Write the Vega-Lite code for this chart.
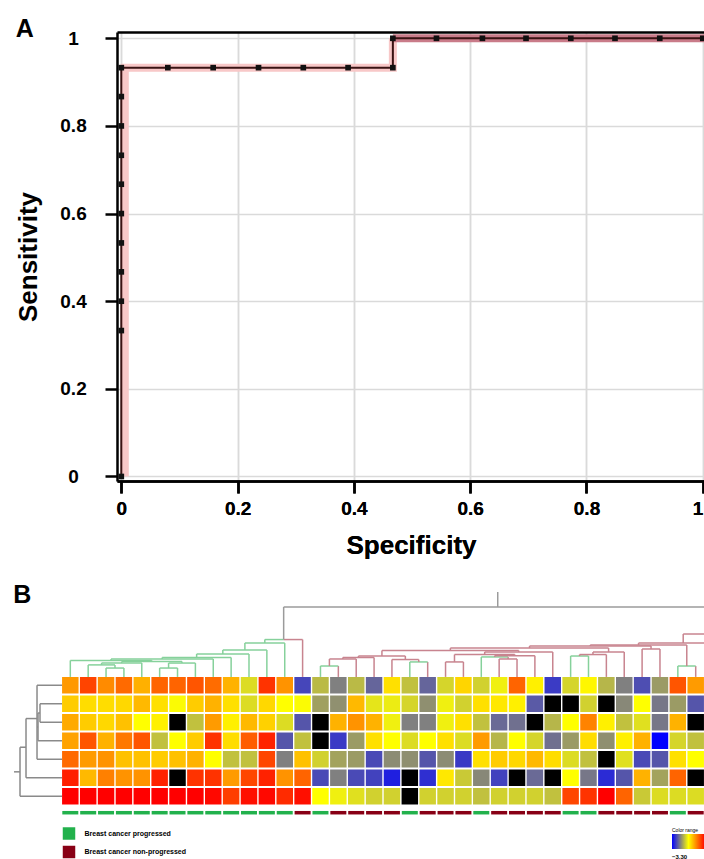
{
  "$schema": "https://vega.github.io/schema/vega-lite/v6.json",
  "background": "white",
  "padding": {"left": 13, "top": 17, "right": 0, "bottom": 0},
  "autosize": {"type": "pad"},
  "columns": 1,
  "spacing": 25,
  "resolve": {"scale": {"color": "independent", "fill": "independent", "stroke": "independent"}, "legend": {"color": "independent", "fill": "independent"}},
  "config": {"view": {"stroke": null}, "font": "Liberation Sans"},
  "datasets": {
    "roc": [
      {"sp": 0, "se": 0, "o": 0}, {"sp": 0, "se": 0.333, "o": 1}, {"sp": 0, "se": 0.4, "o": 2}, {"sp": 0, "se": 0.467, "o": 3},
      {"sp": 0, "se": 0.533, "o": 4}, {"sp": 0, "se": 0.6, "o": 5}, {"sp": 0, "se": 0.667, "o": 6}, {"sp": 0, "se": 0.733, "o": 7},
      {"sp": 0, "se": 0.8, "o": 8}, {"sp": 0, "se": 0.867, "o": 9}, {"sp": 0, "se": 0.933, "o": 10}, {"sp": 0.08, "se": 0.933, "o": 11},
      {"sp": 0.158, "se": 0.933, "o": 12}, {"sp": 0.236, "se": 0.933, "o": 13}, {"sp": 0.313, "se": 0.933, "o": 14}, {"sp": 0.39, "se": 0.933, "o": 15},
      {"sp": 0.467, "se": 0.933, "o": 16}, {"sp": 0.467, "se": 1, "o": 17}, {"sp": 0.542, "se": 1, "o": 18}, {"sp": 0.621, "se": 1, "o": 19},
      {"sp": 0.696, "se": 1, "o": 20}, {"sp": 0.773, "se": 1, "o": 21}, {"sp": 0.849, "se": 1, "o": 22}, {"sp": 0.926, "se": 1, "o": 23},
      {"sp": 1, "se": 1, "o": 24}
    ],
    "band": [
      {"sp": 0.006, "se": 0, "o": 0, "b": "a"}, {"sp": 0.006, "se": 0.933, "o": 1, "b": "a"}, {"sp": 0.467, "se": 0.933, "o": 2, "b": "a"}, {"sp": 0.467, "se": 1, "o": 3, "b": "a"},
      {"sp": 0.467, "se": 1, "o": 4, "b": "b"}, {"sp": 1.0038, "se": 1, "o": 5, "b": "b"}
    ],
    "dend": [
      {"x":3,"x2":3,"y":0.55,"y2":0.07,"g":"g"},{"x":4,"x2":4,"y":0.55,"y2":0.07,"g":"g"},{"x":3,"x2":4,"y":0.07,"y2":0.07,"g":"g"},
      {"x":2,"x2":2,"y":0.55,"y2":-0.1,"g":"g"},{"x":3.5,"x2":3.5,"y":0.07,"y2":-0.1,"g":"g"},{"x":2,"x2":3.5,"y":-0.1,"y2":-0.1,"g":"g"},
      {"x":2.75,"x2":2.75,"y":-0.1,"y2":-0.2,"g":"g"},{"x":5,"x2":5,"y":0.55,"y2":-0.2,"g":"g"},{"x":2.75,"x2":5,"y":-0.2,"y2":-0.2,"g":"g"},
      {"x":6,"x2":6,"y":0.55,"y2":0.07,"g":"g"},{"x":7,"x2":7,"y":0.55,"y2":0.07,"g":"g"},{"x":6,"x2":7,"y":0.07,"y2":0.07,"g":"g"},
      {"x":6.5,"x2":6.5,"y":0.07,"y2":-0.2,"g":"g"},{"x":8,"x2":8,"y":0.55,"y2":-0.2,"g":"g"},{"x":6.5,"x2":8,"y":-0.2,"y2":-0.2,"g":"g"},
      {"x":3.875,"x2":3.875,"y":-0.2,"y2":-0.28,"g":"g"},{"x":7.25,"x2":7.25,"y":-0.2,"y2":-0.28,"g":"g"},{"x":3.875,"x2":7.25,"y":-0.28,"y2":-0.28,"g":"g"},
      {"x":1,"x2":1,"y":0.55,"y2":-0.34,"g":"g"},{"x":5.5625,"x2":5.5625,"y":-0.28,"y2":-0.34,"g":"g"},{"x":1,"x2":5.5625,"y":-0.34,"y2":-0.34,"g":"g"},
      {"x":3.28,"x2":3.28,"y":-0.34,"y2":-0.42,"g":"g"},{"x":9,"x2":9,"y":0.55,"y2":-0.42,"g":"g"},{"x":3.28,"x2":9,"y":-0.42,"y2":-0.42,"g":"g"},
      {"x":6.14,"x2":6.14,"y":-0.42,"y2":-0.5,"g":"g"},{"x":10,"x2":10,"y":0.55,"y2":-0.5,"g":"g"},{"x":6.14,"x2":10,"y":-0.5,"y2":-0.5,"g":"g"},
      {"x":8.07,"x2":8.07,"y":-0.5,"y2":-0.69,"g":"g"},{"x":11,"x2":11,"y":0.55,"y2":-0.69,"g":"g"},{"x":8.07,"x2":11,"y":-0.69,"y2":-0.69,"g":"g"},
      {"x":9.535,"x2":9.535,"y":-0.69,"y2":-0.91,"g":"g"},{"x":12,"x2":12,"y":0.55,"y2":-0.91,"g":"g"},{"x":9.535,"x2":12,"y":-0.91,"y2":-0.91,"g":"g"},
      {"x":10.77,"x2":10.77,"y":-0.91,"y2":-1.28,"g":"g"},{"x":13,"x2":13,"y":0.55,"y2":-1.28,"g":"g"},{"x":10.77,"x2":13,"y":-1.28,"y2":-1.28,"g":"g"},
      {"x":11.885,"x2":11.885,"y":-1.28,"y2":-1.47,"g":"g"},{"x":14,"x2":14,"y":0.55,"y2":-1.47,"g":"r"},{"x":11.885,"x2":12.94,"y":-1.47,"y2":-1.47,"g":"g"},{"x":12.94,"x2":14,"y":-1.47,"y2":-1.47,"g":"r"},
      {"x":12.94,"x2":12.94,"y":-1.47,"y2":-3.23,"g":"k"},{"x":12.94,"x2":36.52,"y":-3.23,"y2":-3.23,"g":"k"},{"x":24.92,"x2":24.92,"y":-3.23,"y2":-4.04,"g":"k"},
      {"x":15,"x2":15,"y":0.55,"y2":-0.04,"g":"g"},{"x":16,"x2":16,"y":0.55,"y2":-0.04,"g":"r"},{"x":15,"x2":16,"y":-0.04,"y2":-0.04,"g":"g"},
      {"x":15.5,"x2":15.5,"y":-0.04,"y2":-0.42,"g":"r"},{"x":17,"x2":17,"y":0.55,"y2":-0.42,"g":"r"},{"x":15.5,"x2":17,"y":-0.42,"y2":-0.42,"g":"r"},
      {"x":16.25,"x2":16.25,"y":-0.42,"y2":-0.5,"g":"r"},{"x":18,"x2":18,"y":0.55,"y2":-0.5,"g":"r"},{"x":16.25,"x2":18,"y":-0.5,"y2":-0.5,"g":"r"},
      {"x":20,"x2":20,"y":0.55,"y2":-0.26,"g":"g"},{"x":21,"x2":21,"y":0.55,"y2":-0.26,"g":"r"},{"x":20,"x2":21,"y":-0.26,"y2":-0.26,"g":"g"},
      {"x":19,"x2":19,"y":0.55,"y2":-0.39,"g":"r"},{"x":20.5,"x2":20.5,"y":-0.26,"y2":-0.39,"g":"r"},{"x":19,"x2":20.5,"y":-0.39,"y2":-0.39,"g":"r"},
      {"x":17.125,"x2":17.125,"y":-0.5,"y2":-0.58,"g":"r"},{"x":19.75,"x2":19.75,"y":-0.39,"y2":-0.58,"g":"r"},{"x":17.125,"x2":19.75,"y":-0.58,"y2":-0.58,"g":"r"},
      {"x":22,"x2":22,"y":0.55,"y2":-0.26,"g":"r"},{"x":23,"x2":23,"y":0.55,"y2":-0.26,"g":"r"},{"x":22,"x2":23,"y":-0.26,"y2":-0.26,"g":"r"},
      {"x":25,"x2":25,"y":0.55,"y2":-0.42,"g":"r"},{"x":26,"x2":26,"y":0.55,"y2":-0.42,"g":"r"},{"x":25,"x2":26,"y":-0.42,"y2":-0.42,"g":"r"},
      {"x":24,"x2":24,"y":0.55,"y2":-0.53,"g":"g"},{"x":25.5,"x2":25.5,"y":-0.42,"y2":-0.53,"g":"r"},{"x":24,"x2":25.5,"y":-0.53,"y2":-0.53,"g":"g"},
      {"x":24.75,"x2":24.75,"y":-0.53,"y2":-0.6,"g":"r"},{"x":27,"x2":27,"y":0.55,"y2":-0.6,"g":"r"},{"x":24.75,"x2":27,"y":-0.6,"y2":-0.6,"g":"r"},
      {"x":22.5,"x2":22.5,"y":-0.26,"y2":-0.66,"g":"r"},{"x":25.875,"x2":25.875,"y":-0.6,"y2":-0.66,"g":"r"},{"x":22.5,"x2":25.875,"y":-0.66,"y2":-0.66,"g":"r"},
      {"x":24.19,"x2":24.19,"y":-0.66,"y2":-0.8,"g":"r"},{"x":28,"x2":28,"y":0.55,"y2":-0.8,"g":"r"},{"x":24.19,"x2":28,"y":-0.8,"y2":-0.8,"g":"r"},
      {"x":18.44,"x2":18.44,"y":-0.58,"y2":-0.88,"g":"r"},{"x":26.095,"x2":26.095,"y":-0.8,"y2":-0.88,"g":"r"},{"x":18.44,"x2":26.095,"y":-0.88,"y2":-0.88,"g":"r"},
      {"x":29,"x2":29,"y":0.55,"y2":-0.58,"g":"g"},{"x":30,"x2":30,"y":0.55,"y2":-0.58,"g":"g"},{"x":29,"x2":30,"y":-0.58,"y2":-0.58,"g":"g"},
      {"x":29.5,"x2":29.5,"y":-0.58,"y2":-0.66,"g":"r"},{"x":31,"x2":31,"y":0.55,"y2":-0.66,"g":"r"},{"x":29.5,"x2":31,"y":-0.66,"y2":-0.66,"g":"r"},
      {"x":30.25,"x2":30.25,"y":-0.66,"y2":-0.8,"g":"r"},{"x":32,"x2":32,"y":0.55,"y2":-0.8,"g":"r"},{"x":30.25,"x2":32,"y":-0.8,"y2":-0.8,"g":"r"},
      {"x":33,"x2":33,"y":0.55,"y2":-0.96,"g":"r"},{"x":34,"x2":34,"y":0.55,"y2":-0.96,"g":"r"},{"x":33,"x2":34,"y":-0.96,"y2":-0.96,"g":"r"},
      {"x":35,"x2":35,"y":0.55,"y2":-0.04,"g":"g"},{"x":36,"x2":36,"y":0.55,"y2":-0.04,"g":"r"},{"x":35,"x2":36,"y":-0.04,"y2":-0.04,"g":"g"},
      {"x":22.27,"x2":22.27,"y":-0.88,"y2":-1.01,"g":"r"},{"x":31.125,"x2":31.125,"y":-0.8,"y2":-1.01,"g":"r"},{"x":22.27,"x2":31.125,"y":-1.01,"y2":-1.01,"g":"r"},
      {"x":26.7,"x2":26.7,"y":-1.01,"y2":-1.12,"g":"r"},{"x":33.5,"x2":33.5,"y":-0.96,"y2":-1.12,"g":"r"},{"x":26.7,"x2":33.5,"y":-1.12,"y2":-1.12,"g":"r"},
      {"x":30.1,"x2":30.1,"y":-1.12,"y2":-1.18,"g":"r"},{"x":35.5,"x2":35.5,"y":-0.04,"y2":-1.18,"g":"r"},{"x":30.1,"x2":35.5,"y":-1.18,"y2":-1.18,"g":"r"},
      {"x":32.8,"x2":32.8,"y":-1.18,"y2":-1.28,"g":"r"},{"x":32.8,"x2":36.52,"y":-1.28,"y2":-1.28,"g":"r"},
      {"x":35.3,"x2":35.3,"y":-1.28,"y2":-1.77,"g":"r"},{"x":35.3,"x2":36.52,"y":-1.77,"y2":-1.77,"g":"r"},
      {"x":-0.696,"x2":-0.696,"y":2,"y2":3,"g":"l"},{"x":-0.696,"x2":0.54,"y":2,"y2":2,"g":"l"},{"x":-0.696,"x2":0.54,"y":3,"y2":3,"g":"l"},
      {"x":-0.807,"x2":-0.807,"y":2.5,"y2":4,"g":"l"},{"x":-0.807,"x2":-0.696,"y":2.5,"y2":2.5,"g":"l"},{"x":-0.807,"x2":0.54,"y":4,"y2":4,"g":"l"},
      {"x":-0.863,"x2":-0.863,"y":1,"y2":5,"g":"l"},{"x":-0.863,"x2":0.54,"y":1,"y2":1,"g":"l"},{"x":-0.863,"x2":-0.807,"y":3.25,"y2":3.25,"g":"l"},{"x":-0.863,"x2":0.54,"y":5,"y2":5,"g":"l"},
      {"x":-1.479,"x2":-1.479,"y":2.8,"y2":6,"g":"l"},{"x":-1.479,"x2":-0.863,"y":2.8,"y2":2.8,"g":"l"},{"x":-1.479,"x2":0.54,"y":6,"y2":6,"g":"l"},
      {"x":-1.815,"x2":-1.815,"y":4.35,"y2":7,"g":"l"},{"x":-1.815,"x2":-1.479,"y":4.35,"y2":4.35,"g":"l"},{"x":-1.815,"x2":0.54,"y":7,"y2":7,"g":"l"},
      {"x":-2.15,"x2":-1.815,"y":5.68,"y2":5.68,"g":"l"}
    ],
    "cls": [
      {"c":1,"cls":"Breast cancer progressed"},{"c":2,"cls":"Breast cancer progressed"},{"c":3,"cls":"Breast cancer progressed"},{"c":4,"cls":"Breast cancer progressed"},
      {"c":5,"cls":"Breast cancer progressed"},{"c":6,"cls":"Breast cancer progressed"},{"c":7,"cls":"Breast cancer progressed"},{"c":8,"cls":"Breast cancer progressed"},
      {"c":9,"cls":"Breast cancer progressed"},{"c":10,"cls":"Breast cancer progressed"},{"c":11,"cls":"Breast cancer progressed"},{"c":12,"cls":"Breast cancer progressed"},
      {"c":13,"cls":"Breast cancer progressed"},{"c":14,"cls":"Breast cancer non-progressed"},{"c":15,"cls":"Breast cancer progressed"},{"c":16,"cls":"Breast cancer non-progressed"},
      {"c":17,"cls":"Breast cancer non-progressed"},{"c":18,"cls":"Breast cancer non-progressed"},{"c":19,"cls":"Breast cancer non-progressed"},{"c":20,"cls":"Breast cancer progressed"},
      {"c":21,"cls":"Breast cancer non-progressed"},{"c":22,"cls":"Breast cancer non-progressed"},{"c":23,"cls":"Breast cancer non-progressed"},{"c":24,"cls":"Breast cancer progressed"},
      {"c":25,"cls":"Breast cancer non-progressed"},{"c":26,"cls":"Breast cancer non-progressed"},{"c":27,"cls":"Breast cancer non-progressed"},{"c":28,"cls":"Breast cancer non-progressed"},
      {"c":29,"cls":"Breast cancer progressed"},{"c":30,"cls":"Breast cancer progressed"},{"c":31,"cls":"Breast cancer non-progressed"},{"c":32,"cls":"Breast cancer non-progressed"},
      {"c":33,"cls":"Breast cancer non-progressed"},{"c":34,"cls":"Breast cancer non-progressed"},{"c":35,"cls":"Breast cancer progressed"},{"c":36,"cls":"Breast cancer non-progressed"}
    ],
    "cells": [
      {"r":1,"c":1,"v":1.32},{"r":1,"c":2,"v":2.42},{"r":1,"c":3,"v":1.5},{"r":1,"c":4,"v":1.93},{"r":1,"c":5,"v":1.02},{"r":1,"c":6,"v":2.0},{"r":1,"c":7,"v":2.0},{"r":1,"c":8,"v":2.2},{"r":1,"c":9,"v":1.9},{"r":1,"c":10,"v":1.0},{"r":1,"c":11,"v":-0.45},{"r":1,"c":12,"v":2.64},{"r":1,"c":13,"v":1.4},{"r":1,"c":14,"v":-2.4},{"r":1,"c":15,"v":-0.89},{"r":1,"c":16,"v":-1.65},{"r":1,"c":17,"v":-0.9},{"r":1,"c":18,"v":-2.0},{"r":1,"c":19,"v":0.4},{"r":1,"c":20,"v":-0.8},{"r":1,"c":21,"v":-2.0},{"r":1,"c":22,"v":-0.55},{"r":1,"c":23,"v":0.55},{"r":1,"c":24,"v":-0.6},{"r":1,"c":25,"v":-0.2},{"r":1,"c":26,"v":2.0},{"r":1,"c":27,"v":0.2},{"r":1,"c":28,"v":-2.54},{"r":1,"c":29,"v":-0.55},{"r":1,"c":30,"v":0.1},{"r":1,"c":31,"v":-0.95},{"r":1,"c":32,"v":-1.65},{"r":1,"c":33,"v":-2.3},{"r":1,"c":34,"v":-1.3},{"r":1,"c":35,"v":2.2},{"r":1,"c":36,"v":1.3},
      {"r":2,"c":1,"v":0.66},{"r":2,"c":2,"v":0.44},{"r":2,"c":3,"v":0.44},{"r":2,"c":4,"v":0.5},{"r":2,"c":5,"v":0.9},{"r":2,"c":6,"v":0.4},{"r":2,"c":7,"v":-0.05},{"r":2,"c":8,"v":0.66},{"r":2,"c":9,"v":1.0},{"r":2,"c":10,"v":0.4},{"r":2,"c":11,"v":-0.45},{"r":2,"c":12,"v":0.5},{"r":2,"c":13,"v":0.0},{"r":2,"c":14,"v":-0.05},{"r":2,"c":15,"v":-1.24},{"r":2,"c":16,"v":-1.44},{"r":2,"c":17,"v":0.9},{"r":2,"c":18,"v":-0.34},{"r":2,"c":19,"v":-0.25},{"r":2,"c":20,"v":-0.54},{"r":2,"c":21,"v":-1.45},{"r":2,"c":22,"v":-0.2},{"r":2,"c":23,"v":-0.6},{"r":2,"c":24,"v":0.4},{"r":2,"c":25,"v":0.3},{"r":2,"c":26,"v":0.2},{"r":2,"c":27,"v":-2.14},{"r":2,"c":28,"v":null},{"r":2,"c":29,"v":null},{"r":2,"c":30,"v":-0.6},{"r":2,"c":31,"v":null},{"r":2,"c":32,"v":-1.55},{"r":2,"c":33,"v":0.0},{"r":2,"c":34,"v":-1.76},{"r":2,"c":35,"v":-1.3},{"r":2,"c":36,"v":-2.2},
      {"r":3,"c":1,"v":1.1},{"r":3,"c":2,"v":0.66},{"r":3,"c":3,"v":0.5},{"r":3,"c":4,"v":0.8},{"r":3,"c":5,"v":0.0},{"r":3,"c":6,"v":0.2},{"r":3,"c":7,"v":null},{"r":3,"c":8,"v":-0.8},{"r":3,"c":9,"v":1.3},{"r":3,"c":10,"v":0.2},{"r":3,"c":11,"v":0.9},{"r":3,"c":12,"v":0.6},{"r":3,"c":13,"v":-0.45},{"r":3,"c":14,"v":-2.2},{"r":3,"c":15,"v":null},{"r":3,"c":16,"v":1.0},{"r":3,"c":17,"v":1.4},{"r":3,"c":18,"v":1.0},{"r":3,"c":19,"v":-0.2},{"r":3,"c":20,"v":-1.65},{"r":3,"c":21,"v":-1.65},{"r":3,"c":22,"v":-0.2},{"r":3,"c":23,"v":0.4},{"r":3,"c":24,"v":-0.8},{"r":3,"c":25,"v":-1.93},{"r":3,"c":26,"v":-1.85},{"r":3,"c":27,"v":null},{"r":3,"c":28,"v":-0.95},{"r":3,"c":29,"v":0.0},{"r":3,"c":30,"v":1.6},{"r":3,"c":31,"v":0.2},{"r":3,"c":32,"v":-0.8},{"r":3,"c":33,"v":-0.4},{"r":3,"c":34,"v":-1.76},{"r":3,"c":35,"v":1.0},{"r":3,"c":36,"v":null},
      {"r":4,"c":1,"v":1.2},{"r":4,"c":2,"v":2.2},{"r":4,"c":3,"v":1.0},{"r":4,"c":4,"v":1.75},{"r":4,"c":5,"v":2.2},{"r":4,"c":6,"v":-0.8},{"r":4,"c":7,"v":0.0},{"r":4,"c":8,"v":0.66},{"r":4,"c":9,"v":2.64},{"r":4,"c":10,"v":0.44},{"r":4,"c":11,"v":2.1},{"r":4,"c":12,"v":2.86},{"r":4,"c":13,"v":-2.2},{"r":4,"c":14,"v":-0.8},{"r":4,"c":15,"v":null},{"r":4,"c":16,"v":-2.55},{"r":4,"c":17,"v":-1.3},{"r":4,"c":18,"v":0.4},{"r":4,"c":19,"v":0.0},{"r":4,"c":20,"v":-0.45},{"r":4,"c":21,"v":0.0},{"r":4,"c":22,"v":0.4},{"r":4,"c":23,"v":-0.45},{"r":4,"c":24,"v":1.3},{"r":4,"c":25,"v":-0.95},{"r":4,"c":26,"v":0.0},{"r":4,"c":27,"v":-0.55},{"r":4,"c":28,"v":-1.85},{"r":4,"c":29,"v":-1.3},{"r":4,"c":30,"v":0.44},{"r":4,"c":31,"v":-1.45},{"r":4,"c":32,"v":0.2},{"r":4,"c":33,"v":1.0},{"r":4,"c":34,"v":-3.3},{"r":4,"c":35,"v":-0.54},{"r":4,"c":36,"v":-0.8},
      {"r":5,"c":1,"v":1.93},{"r":5,"c":2,"v":1.3},{"r":5,"c":3,"v":1.4},{"r":5,"c":4,"v":0.8},{"r":5,"c":5,"v":0.8},{"r":5,"c":6,"v":0.66},{"r":5,"c":7,"v":0.8},{"r":5,"c":8,"v":1.0},{"r":5,"c":9,"v":0.0},{"r":5,"c":10,"v":-0.8},{"r":5,"c":11,"v":-0.8},{"r":5,"c":12,"v":2.4},{"r":5,"c":13,"v":-1.65},{"r":5,"c":14,"v":0.8},{"r":5,"c":15,"v":-0.6},{"r":5,"c":16,"v":-1.2},{"r":5,"c":17,"v":-1.3},{"r":5,"c":18,"v":-2.35},{"r":5,"c":19,"v":-1.5},{"r":5,"c":20,"v":-1.45},{"r":5,"c":21,"v":-2.2},{"r":5,"c":22,"v":-1.5},{"r":5,"c":23,"v":-2.55},{"r":5,"c":24,"v":0.4},{"r":5,"c":25,"v":0.66},{"r":5,"c":26,"v":0.5},{"r":5,"c":27,"v":0.9},{"r":5,"c":28,"v":0.44},{"r":5,"c":29,"v":-0.45},{"r":5,"c":30,"v":-0.8},{"r":5,"c":31,"v":null},{"r":5,"c":32,"v":-0.4},{"r":5,"c":33,"v":-2.35},{"r":5,"c":34,"v":-2.2},{"r":5,"c":35,"v":0.4},{"r":5,"c":36,"v":0.0},
      {"r":6,"c":1,"v":2.9},{"r":6,"c":2,"v":0.9},{"r":6,"c":3,"v":1.65},{"r":6,"c":4,"v":1.4},{"r":6,"c":5,"v":1.4},{"r":6,"c":6,"v":2.86},{"r":6,"c":7,"v":null},{"r":6,"c":8,"v":2.64},{"r":6,"c":9,"v":2.64},{"r":6,"c":10,"v":1.3},{"r":6,"c":11,"v":2.4},{"r":6,"c":12,"v":2.86},{"r":6,"c":13,"v":1.4},{"r":6,"c":14,"v":2.0},{"r":6,"c":15,"v":-2.35},{"r":6,"c":16,"v":-1.65},{"r":6,"c":17,"v":-2.35},{"r":6,"c":18,"v":-2.45},{"r":6,"c":19,"v":-2.9},{"r":6,"c":20,"v":null},{"r":6,"c":21,"v":-2.7},{"r":6,"c":22,"v":0.3},{"r":6,"c":23,"v":-0.7},{"r":6,"c":24,"v":-1.55},{"r":6,"c":25,"v":-2.45},{"r":6,"c":26,"v":null},{"r":6,"c":27,"v":-1.93},{"r":6,"c":28,"v":null},{"r":6,"c":29,"v":0.0},{"r":6,"c":30,"v":-1.76},{"r":6,"c":31,"v":-2.75},{"r":6,"c":32,"v":-2.2},{"r":6,"c":33,"v":1.0},{"r":6,"c":34,"v":-1.2},{"r":6,"c":35,"v":2.0},{"r":6,"c":36,"v":null},
      {"r":7,"c":1,"v":3.3},{"r":7,"c":2,"v":3.3},{"r":7,"c":3,"v":3.3},{"r":7,"c":4,"v":3.3},{"r":7,"c":5,"v":3.3},{"r":7,"c":6,"v":3.3},{"r":7,"c":7,"v":3.3},{"r":7,"c":8,"v":3.3},{"r":7,"c":9,"v":3.2},{"r":7,"c":10,"v":2.5},{"r":7,"c":11,"v":3.1},{"r":7,"c":12,"v":3.2},{"r":7,"c":13,"v":2.75},{"r":7,"c":14,"v":3.1},{"r":7,"c":15,"v":0.0},{"r":7,"c":16,"v":-0.2},{"r":7,"c":17,"v":-0.4},{"r":7,"c":18,"v":-0.6},{"r":7,"c":19,"v":-0.6},{"r":7,"c":20,"v":null},{"r":7,"c":21,"v":-0.6},{"r":7,"c":22,"v":-0.6},{"r":7,"c":23,"v":-0.6},{"r":7,"c":24,"v":-0.8},{"r":7,"c":25,"v":-0.6},{"r":7,"c":26,"v":-0.6},{"r":7,"c":27,"v":-0.6},{"r":7,"c":28,"v":-0.8},{"r":7,"c":29,"v":2.4},{"r":7,"c":30,"v":2.64},{"r":7,"c":31,"v":3.3},{"r":7,"c":32,"v":2.0},{"r":7,"c":33,"v":-0.7},{"r":7,"c":34,"v":-0.45},{"r":7,"c":35,"v":-0.45},{"r":7,"c":36,"v":-0.45}
    ]
  },
  "concat": [
    {
      "width": 588,
      "height": 449,
      "title": {"text": "A", "anchor": "start", "frame": "bounds", "fontSize": 25, "fontWeight": "bold", "color": "black", "offset": -20},
      "encoding": {
        "x": {"field": "sp", "type": "quantitative", "scale": {"domain": [-0.0074, 1.0038], "nice": false, "zero": false},
          "axis": {"orient": "bottom", "values": [0, 0.2, 0.4, 0.6, 0.8, 1], "format": "~g", "title": "Specificity",
            "domain": true, "domainColor": "black", "domainWidth": 2.5, "tickColor": "black", "tickWidth": 2.5, "tickSize": 12,
            "labelFontSize": 19, "labelFontWeight": "bold", "labelColor": "black", "labelPadding": 6, "labelFlush": 3,
            "grid": true, "gridColor": "#dadada", "gridWidth": 1.5,
            "titleFontSize": 26, "titleFontWeight": "bold", "titleColor": "black", "titlePadding": 14}},
        "y": {"field": "se", "type": "quantitative", "scale": {"domain": [-0.0103, 1.0144], "nice": false, "zero": false},
          "axis": {"orient": "left", "values": [0, 0.2, 0.4, 0.6, 0.8, 1], "format": "~g", "title": "Sensitivity",
            "domain": true, "domainColor": "black", "domainWidth": 2.5, "tickColor": "black", "tickWidth": 2.5, "tickSize": 12,
            "labelFontSize": 19, "labelFontWeight": "bold", "labelColor": "black", "labelPadding": 32, "labelAlign": "center", "labelBaseline": "middle",
            "grid": true, "gridColor": "#dadada", "gridWidth": 1.5,
            "titleFontSize": 26, "titleFontWeight": "bold", "titleColor": "black", "titlePadding": 18}}
      },
      "layer": [
        {
          "data": {"name": "band"},
          "mark": {"type": "line", "strokeWidth": 8, "strokeCap": "butt"},
          "encoding": {
            "x": {"field": "sp", "type": "quantitative", "scale": {"domain": [-0.0074, 1.0038], "nice": false, "zero": false},
              "axis": {"orient": "top", "labels": false, "ticks": false, "grid": false, "title": null, "domain": true, "domainColor": "black", "domainWidth": 2.5}},
            "order": {"field": "o", "type": "quantitative"},
            "color": {"field": "b", "type": "nominal", "scale": {"domain": ["a", "b"], "range": ["#f8c8c8", "#c97b89"]}, "legend": null}
          }
        },
        {
          "data": {"name": "roc"},
          "mark": {"type": "line", "color": "#3a1313", "strokeWidth": 2},
          "encoding": {"order": {"field": "o", "type": "quantitative"}}
        },
        {
          "data": {"name": "roc"},
          "mark": {"type": "square", "size": 32, "color": "#111111", "opacity": 1, "filled": true}
        }
      ]
    },
    {
      "width": 588,
      "height": 273,
      "title": {"text": "B", "anchor": "start", "frame": "bounds", "fontSize": 25, "fontWeight": "bold", "color": "black", "offset": -22},
      "layer": [
        {
          "data": {"name": "dend"},
          "mark": {"type": "rule", "strokeWidth": 1.5},
          "encoding": {
            "x": {"field": "x", "type": "quantitative", "scale": {"domain": [3.613, 36.52], "nice": false, "zero": false}, "axis": null},
            "x2": {"field": "x2"},
            "y": {"field": "y", "type": "quantitative", "scale": {"domain": [-4.365, 10.392], "reverse": true, "nice": false, "zero": false}, "axis": null},
            "y2": {"field": "y2"},
            "stroke": {"field": "g", "type": "nominal", "scale": {"domain": ["g", "r", "k", "l"], "range": ["#86d19b", "#c8848f", "#9b9b9b", "#8a8a8a"]}, "legend": null}
          }
        },
        {
          "data": {"name": "cells"},
          "transform": [{"filter": "datum.v != null"}],
          "mark": {"type": "square", "size": 272, "opacity": 1, "filled": true},
          "encoding": {
            "x": {"field": "c", "type": "quantitative", "scale": {"domain": [3.613, 36.52], "nice": false, "zero": false}, "axis": null},
            "y": {"field": "r", "type": "quantitative", "scale": {"domain": [-4.365, 10.392], "reverse": true, "nice": false, "zero": false}, "axis": null},
            "fill": {"field": "v", "type": "quantitative",
              "scale": {"domain": [-3.3, -1.65, 0, 3.3], "range": ["#0000ff", "#808080", "#ffff00", "#ff0000"], "interpolate": "rgb"},
              "legend": {"orient": "none", "legendX": 555, "legendY": 242, "direction": "horizontal", "gradientLength": 33, "gradientThickness": 15,
                "gradientStrokeWidth": 0, "title": "Color range", "titleFontSize": 5, "titleFontWeight": "normal", "titleColor": "black", "titlePadding": 1,
                "values": [-3.3], "format": ".2f", "labelFontSize": 6, "labelFontWeight": "bold", "labelColor": "black", "labelOffset": 5, "padding": 0}}
          }
        },
        {
          "data": {"name": "cells"},
          "transform": [{"filter": "datum.v == null"}],
          "mark": {"type": "square", "size": 272, "opacity": 1, "filled": true, "color": "black"},
          "encoding": {
            "x": {"field": "c", "type": "quantitative", "scale": {"domain": [3.613, 36.52], "nice": false, "zero": false}, "axis": null},
            "y": {"field": "r", "type": "quantitative", "scale": {"domain": [-4.365, 10.392], "reverse": true, "nice": false, "zero": false}, "axis": null}
          }
        },
        {
          "data": {"name": "cls"},
          "mark": {"type": "tick", "orient": "horizontal", "size": 16, "thickness": 3.5, "opacity": 1},
          "encoding": {
            "x": {"field": "c", "type": "quantitative", "scale": {"domain": [3.613, 36.52], "nice": false, "zero": false}, "axis": null},
            "y": {"datum": 7.89, "type": "quantitative"},
            "color": {"field": "cls", "type": "nominal",
              "scale": {"domain": ["Breast cancer progressed", "Breast cancer non-progressed"], "range": ["#22b14c", "#880015"]},
              "legend": {"orient": "none", "legendX": -54.5, "legendY": 241, "title": null, "symbolType": "square", "symbolSize": 156,
                "symbolStrokeWidth": 0, "symbolOpacity": 1, "labelFontSize": 7, "labelFontWeight": "bold", "labelColor": "black",
                "labelOffset": 9, "rowPadding": 5.5, "padding": 0}}
          }
        }
      ]
    }
  ]
}
